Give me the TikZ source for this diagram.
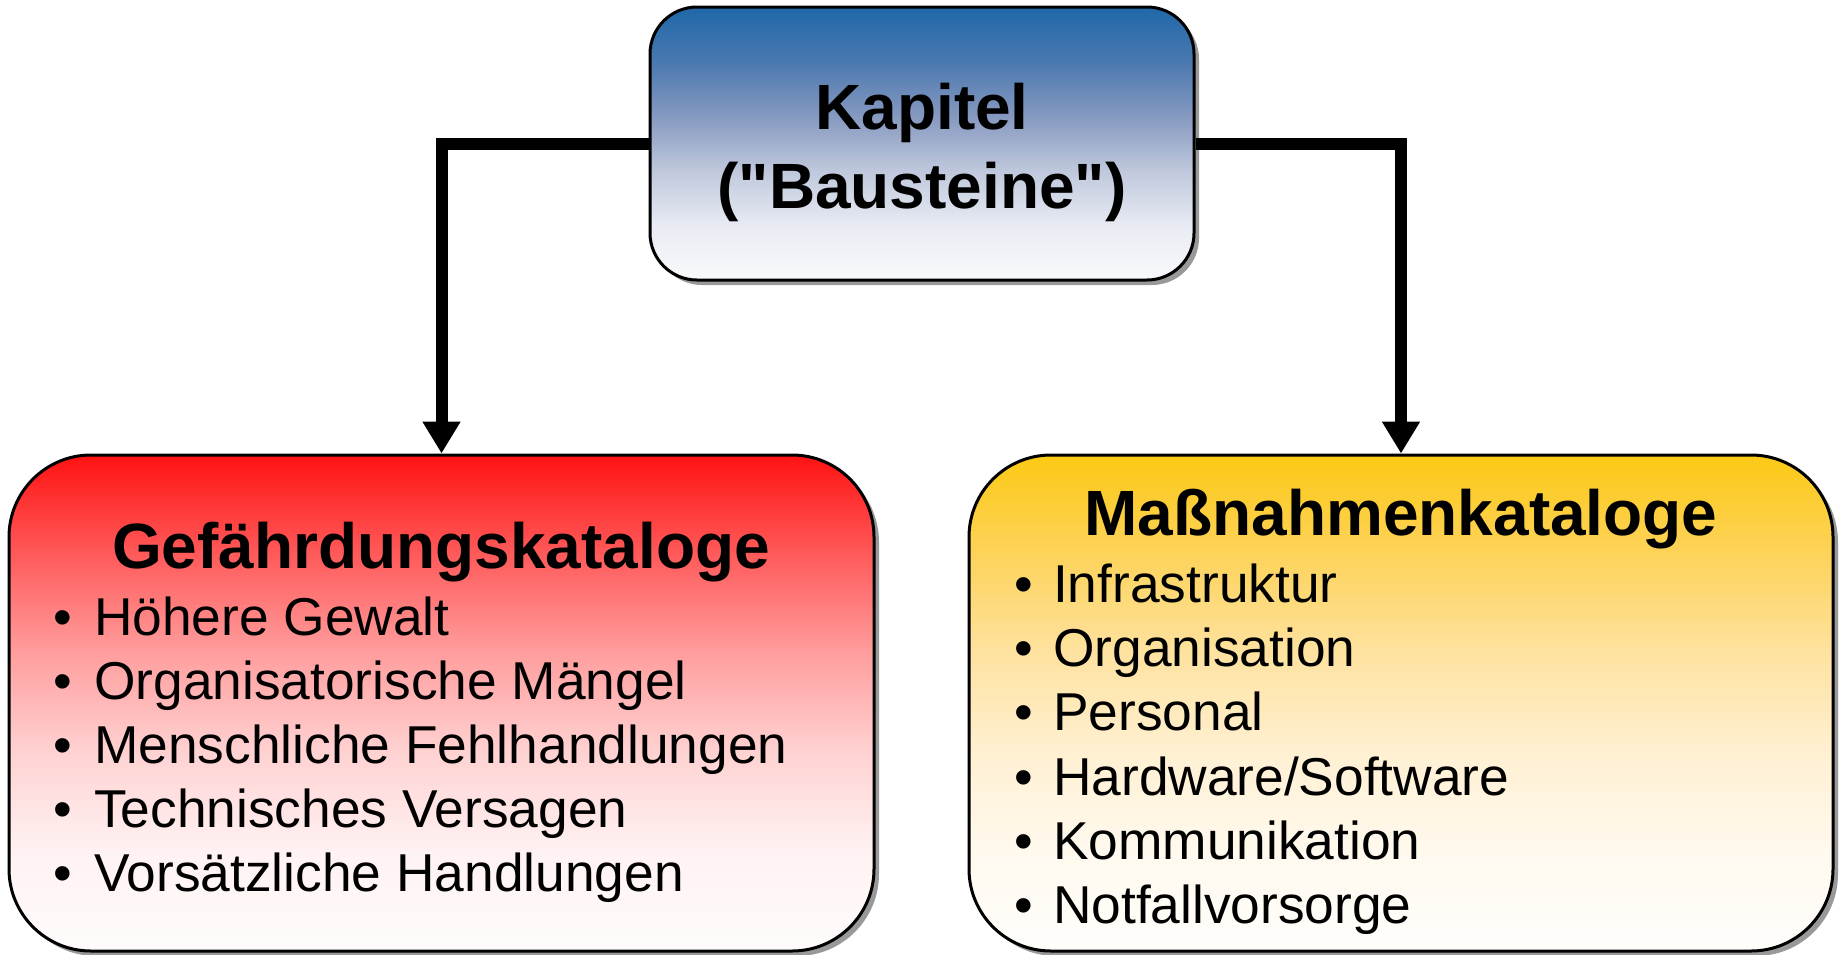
\documentclass[tikz,border=0pt]{standalone}
\usepackage{fontspec}
\setmainfont{Liberation Sans}
\usetikzlibrary{arrows.meta,shadows}

\definecolor{shadowgray}{HTML}{999999}

% vertical fills; the path's box spans 25bp (bottom) to 75bp (top)
\pgfdeclareverticalshading{capfill}{100bp}{%
  color(0bp)=(rgb,255:red,249;green,250;blue,252);
  color(25bp)=(rgb,255:red,249;green,250;blue,252);
  color(35bp)=(rgb,255:red,232;green,235;blue,243);
  color(45bp)=(rgb,255:red,191;green,200;blue,220);
  color(55bp)=(rgb,255:red,134;green,153;blue,192);
  color(65bp)=(rgb,255:red,74;green,120;blue,176);
  color(75bp)=(rgb,255:red,31;green,104;blue,168);
  color(100bp)=(rgb,255:red,31;green,104;blue,168)}
\pgfdeclareverticalshading{geffill}{100bp}{%
  color(0bp)=(rgb,255:red,255;green,252;blue,252);
  color(25bp)=(rgb,255:red,255;green,252;blue,252);
  color(35bp)=(rgb,255:red,255;green,242;blue,242);
  color(45bp)=(rgb,255:red,255;green,210;blue,210);
  color(55bp)=(rgb,255:red,255;green,158;blue,158);
  color(65bp)=(rgb,255:red,255;green,90;blue,90);
  color(75bp)=(rgb,255:red,255;green,18;blue,18);
  color(100bp)=(rgb,255:red,255;green,18;blue,18)}
\pgfdeclareverticalshading{massfill}{100bp}{%
  color(0bp)=(rgb,255:red,255;green,254;blue,252);
  color(25bp)=(rgb,255:red,255;green,254;blue,252);
  color(35bp)=(rgb,255:red,255;green,249;blue,238);
  color(45bp)=(rgb,255:red,255;green,240;blue,210);
  color(55bp)=(rgb,255:red,254;green,226;blue,160);
  color(65bp)=(rgb,255:red,253;green,211;blue,90);
  color(75bp)=(rgb,255:red,252;green,201;blue,20);
  color(100bp)=(rgb,255:red,252;green,201;blue,20)}

\begin{document}
\begin{tikzpicture}[x=1pt,y=-1pt,
  panel/.style={draw=black, line width=3pt, inner sep=0pt, rectangle,
    drop shadow={shadow xshift=5pt, shadow yshift=-5pt, fill=shadowgray, opacity=1}},
  conn/.style={line width=12pt, -{Triangle[width=36pt,length=32pt]}},
  headtxt/.style={inner sep=0pt, anchor=base, font=\fontsize{64}{76}\selectfont\bfseries},
  itemtxt/.style={inner sep=0pt, anchor=base west, font=\fontsize{53.3}{64}\selectfont},
]
\useasboundingbox (0,0) rectangle (1839,954);

% chapter box
\node[panel, rounded corners=47pt, minimum width=544pt, minimum height=273pt,
      shading=capfill] (kap) at (922,143.5) {};
\node[headtxt] (kap1) at (922,129) {Kapitel};
\node[headtxt] (kap2) at (922,208) {(\textquotedbl Bausteine\textquotedbl)};

% threat catalogue
\node[panel, rounded corners=82pt, minimum width=865pt, minimum height=496pt,
      shading=geffill] (gef) at (441.5,703) {};
\node[headtxt] (geft) at (441,568) {Gefährdungskataloge};
\node[itemtxt] (g1) at (53,635) {\makebox[41pt][l]{\textbullet}Höhere Gewalt};
\node[itemtxt] (g2) at (53,699) {\makebox[41pt][l]{\textbullet}Organisatorische Mängel};
\node[itemtxt] (g3) at (53,763) {\makebox[41pt][l]{\textbullet}Menschliche Fehlhandlungen};
\node[itemtxt] (g4) at (53,827) {\makebox[41pt][l]{\textbullet}Technisches Versagen};
\node[itemtxt] (g5) at (53,891) {\makebox[41pt][l]{\textbullet}Vorsätzliche Handlungen};

% safeguard catalogue
\node[panel, rounded corners=82pt, minimum width=864pt, minimum height=496pt,
      shading=massfill] (mass) at (1401,703) {};
\node[headtxt] (masst) at (1401,535) {Maßnahmenkataloge};
\node[itemtxt] (m1) at (1014,602) {\makebox[39pt][l]{\textbullet}Infrastruktur};
\node[itemtxt] (m2) at (1014,666) {\makebox[39pt][l]{\textbullet}Organisation};
\node[itemtxt] (m3) at (1014,730) {\makebox[39pt][l]{\textbullet}Personal};
\node[itemtxt] (m4) at (1014,795) {\makebox[39pt][l]{\textbullet}Hardware/Software};
\node[itemtxt] (m5) at (1014,859) {\makebox[39pt][l]{\textbullet}Kommunikation};
\node[itemtxt] (m6) at (1014,923) {\makebox[39pt][l]{\textbullet}Notfallvorsorge};

% connectors
\draw[conn] (kap.west) -| (gef.north);
\draw[conn] (kap.east) -| (mass.north);
\end{tikzpicture}
\end{document}
